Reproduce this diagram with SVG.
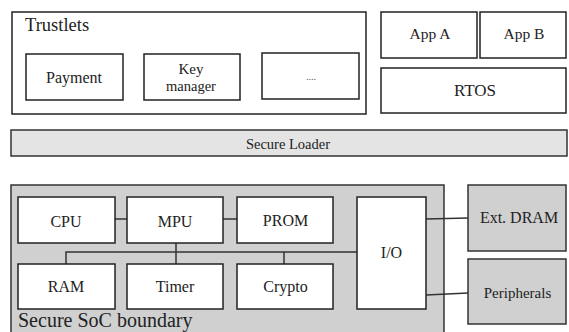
<svg xmlns="http://www.w3.org/2000/svg" width="569" height="332" viewBox="0 0 569 332" font-family="'Liberation Serif', 'DejaVu Serif', 'Times New Roman', serif">
<style>
.w{fill:#fff;stroke:#222;stroke-width:1.5}
.g{fill:#d0d0d0;stroke:#333;stroke-width:1.5}
.lg{fill:#e4e4e4;stroke:#333;stroke-width:1.5}
text{font-family:'Liberation Serif','DejaVu Serif','Times New Roman',serif;fill:#222;font-size:16px;text-anchor:middle}
.c{stroke:#333;stroke-width:1.5;fill:none}
</style>
<g id="trustlets"><rect class="w" x="12" y="12" width="354" height="102"/><text x="25" y="31" style="text-anchor:start;font-size:18.5px">Trustlets</text></g>
<g id="payment"><rect class="w" x="26" y="54" width="97" height="46"/><text x="74" y="83">Payment</text></g>
<g id="keymanager"><rect class="w" x="144" y="54" width="96" height="46"/><text x="191" y="74" style="font-size:15px">Key</text><text x="191" y="91" style="font-size:14.5px">manager</text></g>
<g id="more"><rect class="w" x="262" y="53" width="97" height="46"/><text x="311" y="80" style="font-size:10px;fill:#555">....</text></g>
<g id="appa"><rect class="w" x="381" y="12" width="96" height="46"/><text x="430" y="39" style="font-size:15.5px">App A</text></g>
<g id="appb"><rect class="w" x="480" y="12" width="86" height="46"/><text x="524" y="39" style="font-size:15.5px">App B</text></g>
<g id="rtos"><rect class="w" x="381" y="68" width="185" height="45"/><text x="475" y="96" style="font-size:17px">RTOS</text></g>
<g id="loader"><rect class="lg" x="11" y="130" width="556" height="26"/><text x="288" y="149" style="font-size:14.5px">Secure Loader</text></g>
<g id="soc"><rect class="g" x="11" y="185" width="433" height="160"/><text x="18" y="327" style="text-anchor:start;font-size:20px">Secure  SoC boundary</text></g>
<g id="connectors">
<path class="c" d="M115 219H127M223 219H237M66 264V252H357M176 243V264M284 252V264M426 219L468 218M426 295L468 293"/>
</g>
<g id="cpu"><rect class="w" x="18" y="197" width="97" height="46"/><text x="66" y="227">CPU</text></g>
<g id="mpu"><rect class="w" x="127" y="197" width="96" height="46"/><text x="175" y="227">MPU</text></g>
<g id="prom"><rect class="w" x="237" y="197" width="96" height="46"/><text x="285.5" y="226">PROM</text></g>
<g id="ram"><rect class="w" x="18" y="264" width="97" height="45"/><text x="66" y="292">RAM</text></g>
<g id="timer"><rect class="w" x="127" y="264" width="96" height="45"/><text x="175" y="292">Timer</text></g>
<g id="crypto"><rect class="w" x="237" y="264" width="96" height="45"/><text x="285.5" y="292">Crypto</text></g>
<g id="io"><rect class="w" x="357" y="197" width="69" height="112"/><text x="391.5" y="258">I/O</text></g>
<g id="extdram"><rect class="g" x="468" y="185" width="98" height="66"/><text x="519" y="223">Ext. DRAM</text></g>
<g id="peripherals"><rect class="g" x="468" y="259" width="98" height="65"/><text x="517.5" y="298" style="font-size:15px">Peripherals</text></g>
</svg>
